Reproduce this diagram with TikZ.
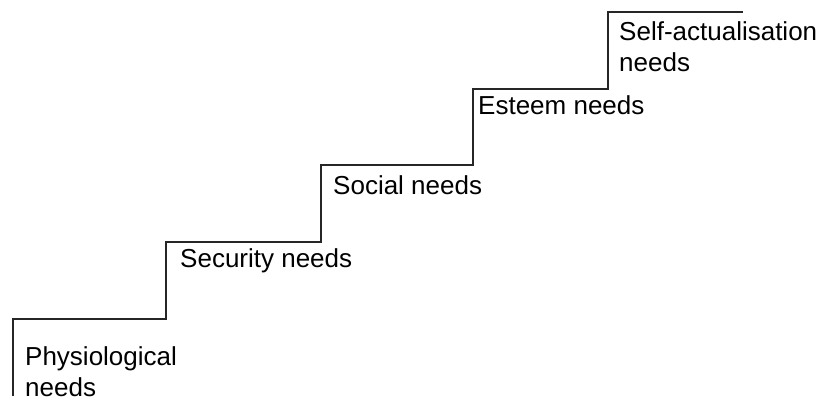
\documentclass[tikz,border=0pt]{standalone}
\usepackage{fontspec}
\setmainfont{Liberation Sans}
\begin{document}
\begin{tikzpicture}
            [x=1pt, y=-1pt,
            stair/.style={line width=1.1pt, black!85},
            stepname/.style={anchor=base west, inner sep=0pt, align=left,
                font=\fontsize{26}{31}\selectfont}]

            \useasboundingbox (0,0) rectangle (824,398);

            % Ends of the treads
            \coordinate (p0) at (13,396);
            \coordinate (p1) at (166,319);
            \coordinate (p2) at (321,242);
            \coordinate (p3) at (473,165);
            \coordinate (p4) at (608,89);
            \coordinate (p5) at (743,12);

            % The staircase
            \draw[stair] (p0) |- (p1) |- (p2) |- (p3) |- (p4) |- (p5);

            % Names of the steps (base is the last line)
            \node[stepname] (phys) at (25,396) {Physiological\\needs};
            \node[stepname] (secu) at (180,267) {Security needs};
            \node[stepname] (soci) at (333,195) {Social needs};
            \node[stepname] (este) at (478,115) {Esteem needs};
            \node[stepname] (self) at (619,72) {Self-actualisation\\needs};

        \end{tikzpicture}
\end{document}
